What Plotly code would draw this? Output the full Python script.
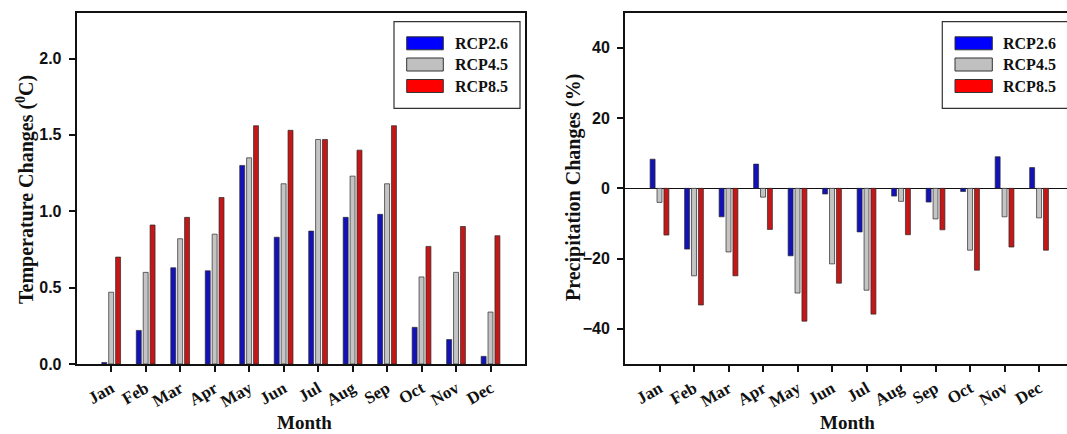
import plotly.graph_objects as go

months = ["Jan", "Feb", "Mar", "Apr", "May", "Jun", "Jul", "Aug", "Sep", "Oct", "Nov", "Dec"]
scenarios = ["RCP2.6", "RCP4.5", "RCP8.5"]

temp_rcp26 = [0.01, 0.22, 0.63, 0.61, 1.30, 0.83, 0.87, 0.96, 0.98, 0.24, 0.16, 0.05]
temp_rcp45 = [0.47, 0.60, 0.82, 0.85, 1.35, 1.18, 1.47, 1.23, 1.18, 0.57, 0.60, 0.34]
temp_rcp85 = [0.70, 0.91, 0.96, 1.09, 1.56, 1.53, 1.47, 1.40, 1.56, 0.77, 0.90, 0.84]

prec_rcp26 = [8.3, -17.3, -8.1, 6.9, -19.2, -1.6, -12.4, -2.2, -3.9, -0.9, 9.0, 5.9]
prec_rcp45 = [-4.0, -24.9, -18.1, -2.5, -29.8, -21.5, -29.0, -3.7, -8.7, -17.6, -8.1, -8.4]
prec_rcp85 = [-13.3, -33.2, -24.9, -11.7, -37.8, -27.0, -35.8, -13.2, -11.8, -23.3, -16.7, -17.6]

temp_ticks = [0.0, 0.5, 1.0, 1.5, 2.0]
prec_ticks = [-40, -20, 0, 20, 40]

W, H = 1067, 434
bar_colors = ["#1212b8", "#c4c4c4", "#c41818"]
legend_colors = ["#0000ff", "#c0c0c0", "#ff0000"]
outline = "#2a2a2a"

serif = "Liberation Serif"
sans = "Liberation Sans"

fig = go.Figure()
for name, vals, col in zip(scenarios, [temp_rcp26, temp_rcp45, temp_rcp85], bar_colors):
    fig.add_trace(go.Bar(x=months, y=vals, name=name, marker=dict(color=col, line=dict(color=outline, width=0.7)),
                         xaxis="x", yaxis="y", showlegend=False, offsetgroup=name, hoverinfo="skip"))
for name, vals, col in zip(scenarios, [prec_rcp26, prec_rcp45, prec_rcp85], bar_colors):
    fig.add_trace(go.Bar(x=months, y=vals, name=name, marker=dict(color=col, line=dict(color=outline, width=0.7)),
                         xaxis="x2", yaxis="y2", showlegend=False, offsetgroup=name, hoverinfo="skip"))

def px(x):
    return x / W

def py(y):
    return 1 - y / H

xfont = dict(family=serif, size=17, color="#111", weight="bold")
yfont = dict(family=sans, size=16, color="#111", weight="bold")

common_x = dict(type="category", showgrid=False, showline=True, linecolor="#111", linewidth=2,
                ticks="outside", ticklen=6, tickwidth=2, tickcolor="#111", tickangle=-30,
                tickfont=xfont, zeroline=False, automargin=False)
common_y = dict(showgrid=False, showline=True, linecolor="#111", linewidth=2,
                ticks="outside", ticklen=6, tickwidth=2, tickcolor="#111", tickfont=yfont,
                ticklabelstandoff=4, automargin=False)

ydom = [py(364), py(12.7)]
fig.update_layout(
    width=W, height=H, autosize=False,
    margin=dict(l=0, r=0, t=0, b=0),
    paper_bgcolor="white", plot_bgcolor="white",
    barmode="group", bargap=0.4, bargroupgap=0.28,
    showlegend=False,
    xaxis=dict(common_x, domain=[px(76.7), px(525)], range=[-1, 12], anchor="y", mirror=True),
    yaxis=dict(common_y, domain=ydom, range=[0, 2.3], tickvals=temp_ticks, tickformat=".1f",
               anchor="x", mirror=True, zeroline=False),
    xaxis2=dict(common_x, domain=[px(625), 1.0], range=[-1, 11.81], anchor="y2", mirror=True),
    yaxis2=dict(common_y, domain=ydom, range=[-50, 50], tickvals=prec_ticks, anchor="x2", mirror=False,
                zeroline=True, zerolinecolor="#111", zerolinewidth=1.5),
)

title_font = dict(family=serif, size=19, color="#111", weight="bold")
ytitle_font = dict(family=serif, size=20, color="#111", weight="bold")
annotations = [
    dict(text="Temperature Changes (<sup>0</sup>C)", x=px(25), y=py(190), textangle=-90, font=ytitle_font,
         xanchor="center", yanchor="middle"),
    dict(text="Precipitation Changes (%)", x=px(573), y=py(188), textangle=-90, font=ytitle_font,
         xanchor="center", yanchor="middle"),
    dict(text="Month", x=px(304), y=0, font=title_font, xanchor="center", yanchor="bottom", borderpad=0),
    dict(text="Month", x=px(847), y=0, font=title_font, xanchor="center", yanchor="bottom", borderpad=0),
]
for a in annotations:
    a.update(xref="paper", yref="paper", showarrow=False)

shapes = []
legend_font = dict(family=serif, size=16, color="#111", weight="bold")
row_y = [43.3, 64.5, 86]
for box_l, box_r, sw_l, sw_r, txt_x in [(394, 520, 406.7, 443.3, 452.7), (942.3, 1075, 955, 992.3, 1000.7)]:
    shapes.append(dict(type="rect", xref="paper", yref="paper", x0=px(box_l), x1=px(box_r),
                       y0=py(108.3), y1=py(21.7), line=dict(color="#333", width=1.2), fillcolor="white", layer="below"))
    for name, col, ry in zip(scenarios, legend_colors, row_y):
        shapes.append(dict(type="rect", xref="paper", yref="paper", x0=px(sw_l), x1=px(sw_r),
                           y0=py(ry + 6.5), y1=py(ry - 6.5), line=dict(color="#333", width=1), fillcolor=col))
        annotations.append(dict(text=name, x=px(txt_x), y=py(ry), xref="paper", yref="paper", showarrow=False,
                                xanchor="left", yanchor="middle", font=legend_font))

fig.update_layout(annotations=annotations, shapes=shapes)
fig.write_html("out.html", config={"displayModeBar": False, "staticPlot": True},
               post_script="document.body.style.margin='0';document.body.style.overflow='hidden';")
